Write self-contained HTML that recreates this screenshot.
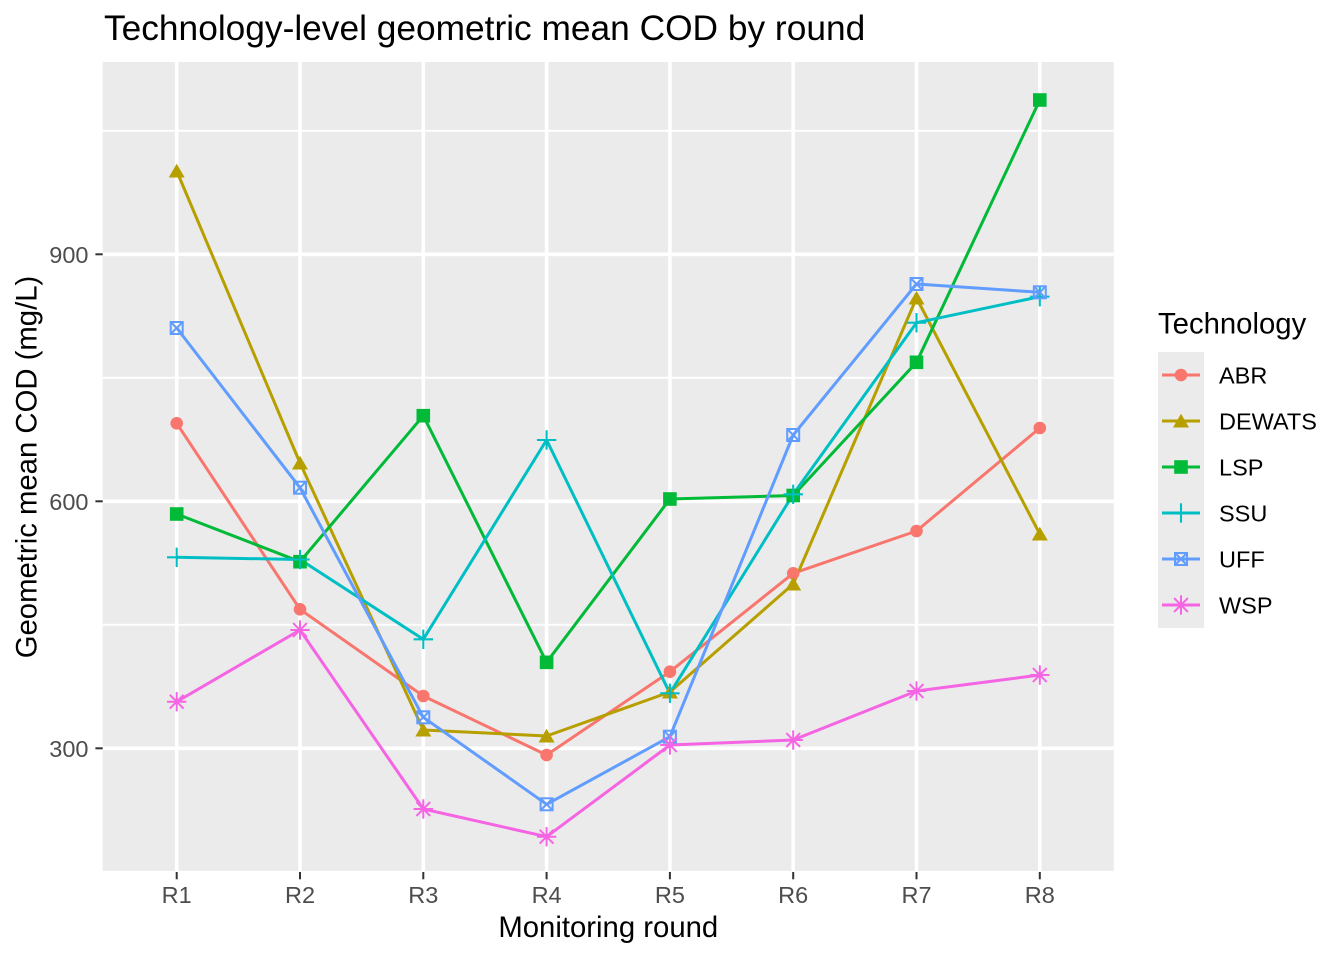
<!DOCTYPE html>
<html><head><meta charset="utf-8"><style>
html,body{margin:0;padding:0;background:#fff;}
svg{display:block;font-family:"Liberation Sans",Arial,sans-serif;}
</style></head><body>
<svg width="1344" height="960" viewBox="0 0 1344 960" xmlns="http://www.w3.org/2000/svg">
<rect x="0" y="0" width="1344" height="960" fill="#fff"/>
<!-- panel -->
<rect x="102.7" y="62" width="1011.1" height="810" fill="#EBEBEB"/>
<!-- minor grid -->
<g stroke="#fff" stroke-width="1.9">
<line x1="102.7" x2="1113.8" y1="871.8" y2="871.8"/>
<line x1="102.7" x2="1113.8" y1="624.8" y2="624.8"/>
<line x1="102.7" x2="1113.8" y1="377.8" y2="377.8"/>
<line x1="102.7" x2="1113.8" y1="130.8" y2="130.8"/>
</g>
<!-- major grid -->
<g stroke="#fff" stroke-width="3.6">
<line x1="102.7" x2="1113.8" y1="748.3" y2="748.3"/>
<line x1="102.7" x2="1113.8" y1="501.3" y2="501.3"/>
<line x1="102.7" x2="1113.8" y1="254.3" y2="254.3"/>
<line x1="176.7" x2="176.7" y1="62" y2="872"/>
<line x1="300" x2="300" y1="62" y2="872"/>
<line x1="423.3" x2="423.3" y1="62" y2="872"/>
<line x1="546.6" x2="546.6" y1="62" y2="872"/>
<line x1="669.9" x2="669.9" y1="62" y2="872"/>
<line x1="793.2" x2="793.2" y1="62" y2="872"/>
<line x1="916.5" x2="916.5" y1="62" y2="872"/>
<line x1="1039.8" x2="1039.8" y1="62" y2="872"/>
</g>
<!-- lines -->
<g fill="none" stroke-width="3" stroke-linejoin="round">
<polyline stroke="#F8766D" points="176.7,423.3 300,609.3 423.3,696 546.6,755 669.9,671.7 793.2,573.3 916.5,531 1039.8,428"/>
<polyline stroke="#B79F00" points="176.7,171 300,463 423.3,730 546.6,736 669.9,692 793.2,584 916.5,298 1039.8,534"/>
<polyline stroke="#00BA38" points="176.7,514 300,561.7 423.3,415.7 546.6,662.3 669.9,499 793.2,495.5 916.5,362.3 1039.8,100"/>
<polyline stroke="#00BFC4" points="176.7,557.3 300,559.5 423.3,639.3 546.6,440 669.9,693.3 793.2,494.3 916.5,322.7 1039.8,296.7"/>
<polyline stroke="#619CFF" points="176.7,328 300,487.7 423.3,717.3 546.6,804.3 669.9,736.7 793.2,435 916.5,284 1039.8,292.3"/>
<polyline stroke="#F564E3" points="176.7,701.7 300,630 423.3,809 546.6,836.7 669.9,745 793.2,740 916.5,691 1039.8,675"/>
</g>
<defs>
<circle id="pA" cx="0" cy="0" r="6.3" fill="#F8766D"/>
<polygon id="pD" points="-8,6.5 8,6.5 0,-7.2" fill="#B79F00"/>
<rect id="pL" x="-6.8" y="-6.8" width="13.6" height="13.6" fill="#00BA38"/>
<g id="pS" stroke="#00BFC4" stroke-width="2.1" fill="none"><line x1="-9.7" x2="9.7" y1="0" y2="0"/><line x1="0" x2="0" y1="-9.7" y2="9.7"/></g>
<g id="pU" stroke="#619CFF" stroke-width="2" fill="none"><rect x="-6" y="-6" width="12" height="12"/><line x1="-6" y1="-6" x2="6" y2="6"/><line x1="-6" y1="6" x2="6" y2="-6"/></g>
<g id="pW" stroke="#F564E3" stroke-width="2" fill="none"><line x1="-9.7" x2="9.7" y1="0" y2="0"/><line x1="0" x2="0" y1="-9.7" y2="9.7"/><line x1="-6.9" y1="-6.9" x2="6.9" y2="6.9"/><line x1="-6.9" y1="6.9" x2="6.9" y2="-6.9"/></g>
</defs>
<!-- points -->
<g>
<use href="#pA" x="176.7" y="423.3"/><use href="#pA" x="300" y="609.3"/><use href="#pA" x="423.3" y="696"/><use href="#pA" x="546.6" y="755"/><use href="#pA" x="669.9" y="671.7"/><use href="#pA" x="793.2" y="573.3"/><use href="#pA" x="916.5" y="531"/><use href="#pA" x="1039.8" y="428"/>
<use href="#pD" x="176.7" y="171"/><use href="#pD" x="300" y="463"/><use href="#pD" x="423.3" y="730"/><use href="#pD" x="546.6" y="736"/><use href="#pD" x="669.9" y="692"/><use href="#pD" x="793.2" y="584"/><use href="#pD" x="916.5" y="298"/><use href="#pD" x="1039.8" y="534"/>
<use href="#pL" x="176.7" y="514"/><use href="#pL" x="300" y="561.7"/><use href="#pL" x="423.3" y="415.7"/><use href="#pL" x="546.6" y="662.3"/><use href="#pL" x="669.9" y="499"/><use href="#pL" x="793.2" y="495.5"/><use href="#pL" x="916.5" y="362.3"/><use href="#pL" x="1039.8" y="100"/>
<use href="#pS" x="176.7" y="557.3"/><use href="#pS" x="300" y="559.5"/><use href="#pS" x="423.3" y="639.3"/><use href="#pS" x="546.6" y="440"/><use href="#pS" x="669.9" y="693.3"/><use href="#pS" x="793.2" y="494.3"/><use href="#pS" x="916.5" y="322.7"/><use href="#pS" x="1039.8" y="296.7"/>
<use href="#pU" x="176.7" y="328"/><use href="#pU" x="300" y="487.7"/><use href="#pU" x="423.3" y="717.3"/><use href="#pU" x="546.6" y="804.3"/><use href="#pU" x="669.9" y="736.7"/><use href="#pU" x="793.2" y="435"/><use href="#pU" x="916.5" y="284"/><use href="#pU" x="1039.8" y="292.3"/>
<use href="#pW" x="176.7" y="701.7"/><use href="#pW" x="300" y="630"/><use href="#pW" x="423.3" y="809"/><use href="#pW" x="546.6" y="836.7"/><use href="#pW" x="669.9" y="745"/><use href="#pW" x="793.2" y="740"/><use href="#pW" x="916.5" y="691"/><use href="#pW" x="1039.8" y="675"/>
</g>
<!-- axis ticks -->
<g stroke="#333333" stroke-width="2">
<line x1="95.4" x2="102.7" y1="748.3" y2="748.3"/>
<line x1="95.4" x2="102.7" y1="501.3" y2="501.3"/>
<line x1="95.4" x2="102.7" y1="254.3" y2="254.3"/>
<line x1="176.7" x2="176.7" y1="872" y2="879.3"/>
<line x1="300" x2="300" y1="872" y2="879.3"/>
<line x1="423.3" x2="423.3" y1="872" y2="879.3"/>
<line x1="546.6" x2="546.6" y1="872" y2="879.3"/>
<line x1="669.9" x2="669.9" y1="872" y2="879.3"/>
<line x1="793.2" x2="793.2" y1="872" y2="879.3"/>
<line x1="916.5" x2="916.5" y1="872" y2="879.3"/>
<line x1="1039.8" x2="1039.8" y1="872" y2="879.3"/>
</g>
<g fill="#4D4D4D" font-size="23.5px">
<text x="88.5" y="756.8" text-anchor="end">300</text>
<text x="88.5" y="509.8" text-anchor="end">600</text>
<text x="88.5" y="262.8" text-anchor="end">900</text>
<g text-anchor="middle">
<text x="176.7" y="903">R1</text>
<text x="300" y="903">R2</text>
<text x="423.3" y="903">R3</text>
<text x="546.6" y="903">R4</text>
<text x="669.9" y="903">R5</text>
<text x="793.2" y="903">R6</text>
<text x="916.5" y="903">R7</text>
<text x="1039.8" y="903">R8</text>
</g>
</g>
<!-- titles -->
<text x="104" y="40" font-size="35.3px" fill="#000">Technology-level geometric mean COD by round</text>
<text x="608.3" y="937" font-size="29.3px" fill="#000" text-anchor="middle">Monitoring round</text>
<text transform="translate(36.5,467) rotate(-90)" font-size="29.3px" fill="#000" text-anchor="middle">Geometric mean COD (mg/L)</text>
<!-- legend -->
<text x="1158" y="333.5" font-size="29.3px" fill="#000">Technology</text>
<rect x="1158" y="352" width="46" height="276" fill="#EBEBEB"/>
<g stroke-width="3">
<line x1="1162" x2="1200" y1="375" y2="375" stroke="#F8766D"/>
<line x1="1162" x2="1200" y1="421" y2="421" stroke="#B79F00"/>
<line x1="1162" x2="1200" y1="467" y2="467" stroke="#00BA38"/>
<line x1="1162" x2="1200" y1="513" y2="513" stroke="#00BFC4"/>
<line x1="1162" x2="1200" y1="559" y2="559" stroke="#619CFF"/>
<line x1="1162" x2="1200" y1="605" y2="605" stroke="#F564E3"/>
</g>
<use href="#pA" x="1181" y="375"/>
<use href="#pD" x="1181" y="421"/>
<use href="#pL" x="1181" y="467"/>
<use href="#pS" x="1181" y="513"/>
<use href="#pU" x="1181" y="559"/>
<use href="#pW" x="1181" y="605"/>
<g font-size="23.5px" fill="#000">
<text x="1219" y="383.5">ABR</text>
<text x="1219" y="429.5">DEWATS</text>
<text x="1219" y="475.5">LSP</text>
<text x="1219" y="521.5">SSU</text>
<text x="1219" y="567.5">UFF</text>
<text x="1219" y="613.5">WSP</text>
</g>
</svg>
</body></html>
